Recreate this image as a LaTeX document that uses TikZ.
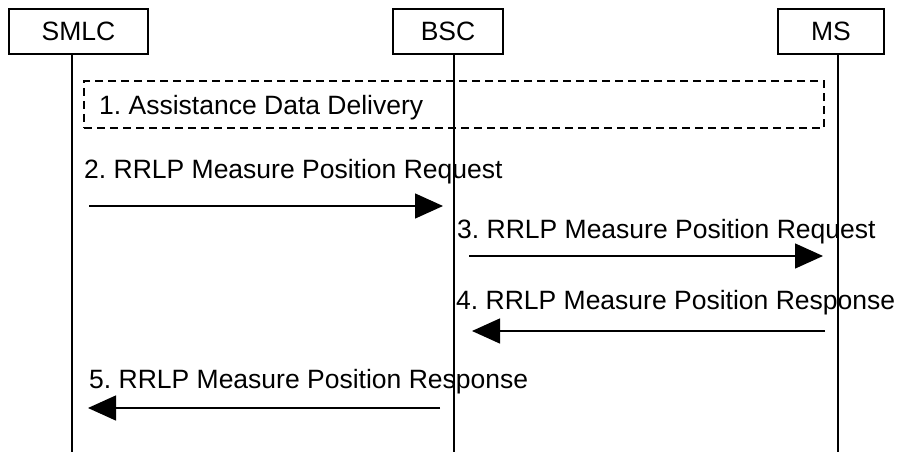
\documentclass[tikz,border=0pt]{standalone}
\usepackage{fontspec}
\setmainfont{Liberation Sans}
\frenchspacing
\usetikzlibrary{arrows.meta}
\begin{document}
\begin{tikzpicture}[x=1pt,y=-1pt,
  entity/.style={draw,line width=1.5pt,minimum width=139pt,minimum height=45pt,inner sep=0pt,font=\fontsize{26.5}{30}\selectfont},
  life/.style={line width=1.6pt},
  msg/.style={line width=1.4pt,-{Triangle[length=28pt,width=25pt]}},
  lbl/.style={anchor=base west,inner sep=0pt,font=\fontsize{26.5}{30}\selectfont},
  dbox/.style={draw,line width=1.6pt,dash pattern=on 8pt off 5pt}]
\useasboundingbox (0,0) rectangle (899,452);
\node[entity,minimum width=139pt] (smlc) at (78.5,31.5) {SMLC};
\node[entity,minimum width=110pt] (bsc) at (448,31.5) {BSC};
\node[entity,minimum width=106pt] (ms) at (831,31.5) {MS};
\coordinate (smlcE) at (72,452);
\coordinate (bscE) at (454,452);
\coordinate (msE) at (838,452);
\draw[life] (smlc.south -| smlcE) -- (smlcE);
\draw[life] (bsc.south -| bscE) -- (bscE);
\draw[life] (ms.south -| msE) -- (msE);
\node[dbox,minimum width=740pt,minimum height=47pt,inner sep=0pt] (ad) at (454,104.5) {};
\node[lbl] (l1) at (99,114) {1. Assistance Data Delivery};
\node[lbl] (l2) at (84,178) {2. RRLP Measure Position Request};
\coordinate (a2s) at (89,206);
\coordinate (a2e) at (443,206);
\draw[msg] (a2s) -- (a2e);
\node[lbl] (l3) at (457,238) {3. RRLP Measure Position Request};
\coordinate (a3s) at (469,256);
\coordinate (a3e) at (823,256);
\draw[msg] (a3s) -- (a3e);
\node[lbl] (l4) at (456,309) {4. RRLP Measure Position Response};
\coordinate (a4s) at (825,331);
\coordinate (a4e) at (472,331);
\draw[msg] (a4s) -- (a4e);
\node[lbl] (l5) at (89,388) {5. RRLP Measure Position Response};
\coordinate (a5s) at (440,408);
\coordinate (a5e) at (88,408);
\draw[msg] (a5s) -- (a5e);
\end{tikzpicture}
\end{document}
